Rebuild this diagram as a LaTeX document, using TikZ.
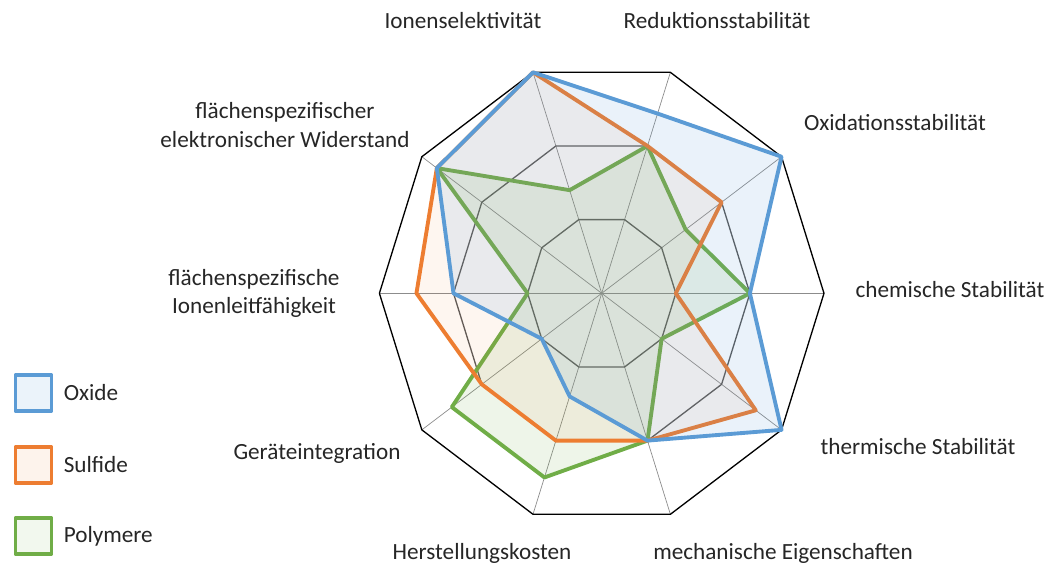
\documentclass[tikz,border=0pt]{standalone}
\usepackage{fontspec}
\setmainfont{Carlito}
\usetikzlibrary{positioning}
\definecolor{oxblue}{RGB}{91,155,213}
\definecolor{sforange}{RGB}{237,125,49}
\definecolor{pmgreen}{RGB}{112,173,71}

\begin{document}
\begin{tikzpicture}[x=1.482cm, y=1.549cm, line join=round,
        lbl/.style={inner sep=0, align=center, text=black!85,
            font=\fontsize{13.2}{16}\selectfont},
        spoke/.style={black!45, line width=0.4pt},
        ring/.style={black!65, line width=0.75pt},
        ox/.style={oxblue, line width=2.2pt, fill=oxblue, fill opacity=0.13},
        sf/.style={sforange, line width=2.2pt, fill=sforange, fill opacity=0.07},
        pm/.style={pmgreen, line width=2.2pt, fill=pmgreen, fill opacity=0.12},
        key/.style={draw, line width=2.2pt, minimum size=0.72cm, inner sep=0}]
    \useasboundingbox (-12.034cm,-5.474cm) rectangle (8.946cm,5.866cm);

    % grid
    \coordinate (o) at (0,0);
    \foreach \a [count=\i] in {0,36,...,324}
        \coordinate (ax\i) at (\a:3);
    \foreach \i in {1,...,10}
        \draw[spoke] (o) -- (ax\i);
    \foreach \r in {1,2}
        \draw[ring] (0:\r) \foreach \a in {36,72,...,324} {-- (\a:\r)} -- cycle;
    \draw[black, line width=0.75pt] (ax1) -- (ax2) -- (ax3) -- (ax4) -- (ax5)
        -- (ax6) -- (ax7) -- (ax8) -- (ax9) -- (ax10) -- cycle;

    % data
    \draw[pm] (0:2) -- (36:1.4) -- (72:2) -- (108:1.4) -- (144:2.75) -- (180:1)
        -- (216:2.5) -- (252:2.5) -- (288:2) -- (324:1) -- cycle;
    \draw[sf] (0:1) -- (36:2) -- (72:2) -- (108:3) -- (144:2.75) -- (180:2.5)
        -- (216:2) -- (252:2) -- (288:2) -- (324:2.57) -- cycle;
    \draw[ox] (0:2) -- (36:3) -- (72:2.44) -- (108:3) -- (144:2.75) -- (180:2)
        -- (216:1) -- (252:1.4) -- (288:2) -- (324:3) -- cycle;

    % axis labels
    \node(l4)[lbl] at (-2.774cm,5.446cm) {Ionenselektivität};
    \node(l3)[lbl] at (2.306cm,5.446cm) {Reduktionsstabilität};
    \node(l2)[lbl] at (5.866cm,3.406cm) {Oxidationsstabilität};
    \node(l5)[lbl] at (-6.334cm,3.366cm) {flächenspezifischer\\elektronischer Widerstand};
    \node(l1)[lbl] at (6.966cm,0.066cm) {chemische Stabilität};
    \node(l6)[lbl] at (-6.954cm,0.006cm) {flächenspezifische\\Ionenleitfähigkeit};
    \node(l7)[lbl] at (-5.694cm,-3.194cm) {Geräteintegration};
    \node(l10)[lbl] at (6.326cm,-3.074cm) {thermische Stabilität};
    \node(l8)[lbl] at (-2.394cm,-5.194cm) {Herstellungskosten};
    \node(l9)[lbl] at (3.626cm,-5.194cm) {mechanische Eigenschaften};

    % legend
    \node(kox)[key, draw=oxblue, fill=oxblue!12] at (-11.364cm,-1.994cm) {};
    \node(ksf)[key, draw=sforange, fill=sforange!9] at (-11.364cm,-3.434cm) {};
    \node(kpm)[key, draw=pmgreen, fill=pmgreen!9] at (-11.364cm,-4.854cm) {};
    \node(tox)[lbl, right=2mm of kox] {Oxide};
    \node(tsf)[lbl, right=2mm of ksf] {Sulfide};
    \node(tpm)[lbl, right=2mm of kpm] {Polymere};
\end{tikzpicture}
\end{document}
